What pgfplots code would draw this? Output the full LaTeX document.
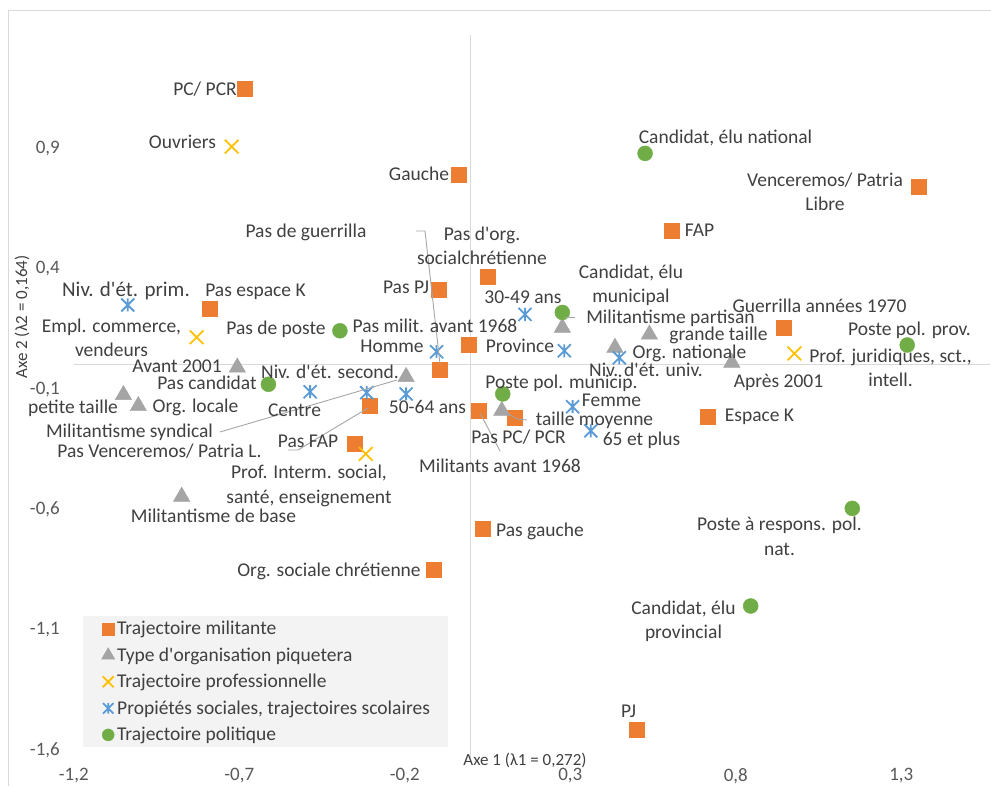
\documentclass[border=0pt]{standalone}
\usepackage{pgfplots}
\pgfplotsset{compat=1.18}
\usepackage{fontspec}
\setmainfont{Carlito}
\newcommand{\q}{\textquotesingle}
\definecolor{cOr}{HTML}{ED7D31}
\definecolor{cGr}{HTML}{A5A5A5}
\definecolor{cYe}{HTML}{FFC000}
\definecolor{cBl}{HTML}{5B9BD5}
\definecolor{cGn}{HTML}{70AD47}
\definecolor{cText}{HTML}{404040}
\definecolor{cTick}{HTML}{595959}
\definecolor{cZero}{HTML}{D9D9D9}
\definecolor{cLead}{HTML}{A6A6A6}
\definecolor{cLeg}{HTML}{F3F3F3}
\pgfdeclareplotmark{exx}{%
  \pgfpathmoveto{\pgfqpoint{-\pgfplotmarksize}{-\pgfplotmarksize}}%
  \pgfpathlineto{\pgfqpoint{\pgfplotmarksize}{\pgfplotmarksize}}%
  \pgfpathmoveto{\pgfqpoint{-\pgfplotmarksize}{\pgfplotmarksize}}%
  \pgfpathlineto{\pgfqpoint{\pgfplotmarksize}{-\pgfplotmarksize}}%
  \pgfusepathqstroke}
\pgfdeclareplotmark{xstar}{%
  \pgfpathmoveto{\pgfqpoint{-\pgfplotmarksize}{-\pgfplotmarksize}}%
  \pgfpathlineto{\pgfqpoint{\pgfplotmarksize}{\pgfplotmarksize}}%
  \pgfpathmoveto{\pgfqpoint{-\pgfplotmarksize}{\pgfplotmarksize}}%
  \pgfpathlineto{\pgfqpoint{\pgfplotmarksize}{-\pgfplotmarksize}}%
  \pgfpathmoveto{\pgfqpoint{0pt}{-\pgfplotmarksize}}%
  \pgfpathlineto{\pgfqpoint{0pt}{\pgfplotmarksize}}%
  \pgfusepathqstroke}
\begin{document}
\begin{tikzpicture}[x=1pt,y=1pt,
  lbl/.style={anchor=base,align=center,inner sep=0pt,font=\fontsize{19.5}{24}\selectfont,text=cText},
  lead/.style={draw=cLead,line width=0.9pt}]
\path (0,0) rectangle (991,786);
\draw[color=cZero,line width=1pt] (8.5,0) -- (8.5,775.5) -- (990.5,775.5);
\begin{axis}[
  at={(73.8pt,35.4pt)}, anchor=south west,
  scale only axis, width=916.5pt, height=715.77pt,
  xmin=-1.2, xmax=1.569, ymin=-1.6, ymax=1.37,
  axis line style={draw=none}, major tick length=0pt,
  xtick={-1.2,-0.7,-0.2,0.3,0.8,1.3},
  xticklabels={{-1,2},{-0,7},{-0,2},{0,3},{0,8},{1,3}},
  ytick={-1.6,-1.1,-0.6,-0.1,0.4,0.9},
  yticklabels={{-1,6},{-1,1},{-0,6},{-0,1},{0,4},{0,9}},
  tick label style={font=\fontsize{19}{22}\selectfont,text=cTick},
  xticklabel style={yshift=-14pt},
  yticklabel style={xshift=-10.5pt},
  clip=false,
  legend cell align=left,
  legend image code/.code={\path[draw=none,fill=none] (0pt,-6pt) rectangle (16pt,6pt);
     \draw[mark repeat=2,mark phase=2,#1,every mark/.append style={scale=0.8}] plot coordinates {(0pt,0pt)(8pt,0pt)(16pt,0pt)};},
  legend style={at={(axis cs:-1.1722,-1.0415)}, anchor=north west, fill=cLeg, draw=none,
     inner xsep=17pt, inner ysep=4pt, font=\fontsize{19.5}{24}\selectfont, text=cText,
     nodes={inner sep=1pt}, row sep=9.5pt},
]
\draw[color=cZero,line width=1pt] (axis cs:0,-1.63) -- (axis cs:0,1.37);
\draw[color=cZero,line width=1pt] (axis cs:-1.2,0) -- (axis cs:1.569,0);
% Trajectoire militante
\addplot[only marks, mark=square*, mark size=7.5pt, color=cOr] coordinates {
(-0.683,1.145) (-0.036,0.788) (1.353,0.739) (0.606,0.558) (0.052,0.366)
(-0.099,0.311) (-0.790,0.235) (0.944,0.156) (-0.008,0.083) (-0.094,-0.018)
(-0.305,-0.170) (-0.350,-0.325) (0.024,-0.190) (0.131,-0.217) (0.714,-0.214)
(0.034,-0.678) (-0.114,-0.851) (0.500,-1.512)};
\addlegendentry{Trajectoire militante}
% Type d'organisation piquetera
\addplot[only marks, mark=triangle*, mark size=9.5pt, color=cGr] coordinates {
(-1.050,-0.124) (-1.005,-0.170) (-0.706,-0.010) (-0.196,-0.049) (-0.874,-0.546)
(0.093,-0.190) (0.276,0.155) (0.539,0.127) (0.435,0.072) (0.788,0.010)};
\addlegendentry{Type d\q organisation piquetera}
% Trajectoire professionnelle
\addplot[only marks, mark=exx, mark size=6.8pt, color=cYe, mark options={line width=1.8pt}] coordinates {
(-0.723,0.906) (-0.829,0.115) (-0.318,-0.369) (0.977,0.048)};
\addlegendentry{Trajectoire professionnelle}
% Proprietes sociales
\addplot[only marks, mark=xstar, mark size=6.5pt, color=cBl, mark options={line width=1.8pt}] coordinates {
(-1.037,0.249) (-0.104,0.055) (-0.486,-0.111) (-0.315,-0.115) (-0.196,-0.120)
(0.163,0.210) (0.282,0.059) (0.448,0.030) (0.307,-0.173) (0.362,-0.273)};
\addlegendentry{Propiétés sociales, trajectoires scolaires}
% Trajectoire politique
\addplot[only marks, mark=*, mark size=7.5pt, color=cGn] coordinates {
(0.526,0.878) (0.276,0.218) (-0.396,0.142) (-0.612,-0.080) (0.096,-0.120)
(1.318,0.083) (1.152,-0.595) (0.845,-1.000)};
\addlegendentry{Trajectoire politique}
\end{axis}
% leader lines
\draw[lead] (416,555) -- (425,555) -- (440,422);
\draw[lead] (220,354) -- (397,406);
\draw[lead] (288,336) -- (298,336) -- (368,378);
\draw[lead] (480,373) -- (500,335);
\draw[lead] (505,374) -- (517,367) -- (527,366);
\draw[lead] (565,469) -- (575,469);
% labels
\node[lbl] at (205,690) {PC/ PCR};
\node[lbl] at (182.5,637) {Ouvriers};
\node[lbl] at (419,605) {Gauche};
\node[lbl] at (306,548) {Pas de guerrilla};
\node[lbl] at (482,521) {Pas d\q org.\\socialchrétienne};
\node[lbl] at (406,492) {Pas PJ};
\node[lbl,font=\fontsize{21}{25}\selectfont] at (126,489.5) {Niv. d\q ét. prim.};
\node[lbl] at (255.5,489) {Pas espace K};
\node[lbl] at (523,482) {30-49 ans};
\node[lbl] at (631,483) {Candidat, élu\\municipal};
\node[lbl] at (670.5,462) {Militantisme partisan};
\node[lbl] at (718.5,445) {grande taille};
\node[lbl] at (689.5,427) {Org. nationale};
\node[lbl] at (646,409) {Niv. d\q ét. univ.};
\node[lbl] at (778.5,398) {Après 2001};
\node[lbl] at (819.5,473) {Guerrilla années 1970};
\node[lbl] at (909.5,450) {Poste pol. prov.};
\node[lbl] at (890.5,399) {Prof. juridiques, sct.,\\intell.};
\node[lbl] at (825,575) {Venceremos/ Patria\\Libre};
\node[lbl] at (699.5,549) {FAP};
\node[lbl] at (725.5,642) {Candidat, élu national};
\node[lbl] at (435,453) {Pas milit. avant 1968};
\node[lbl] at (392,433) {Homme};
\node[lbl] at (520,433) {Province};
\node[lbl] at (111.5,429) {Empl. commerce,\\vendeurs};
\node[lbl] at (276,451) {Pas de poste};
\node[lbl] at (177,413) {Avant 2001};
\node[lbl] at (330,407) {Niv. d\q ét. second.};
\node[lbl] at (207,396) {Pas candidat};
\node[lbl] at (73,372) {petite taille};
\node[lbl] at (195.5,373) {Org. locale};
\node[lbl] at (294.5,369) {Centre};
\node[lbl] at (427.5,372) {50-64 ans};
\node[lbl] at (129.5,348) {Militantisme syndical};
\node[lbl] at (308,338) {Pas FAP};
\node[lbl] at (159.5,328) {Pas Venceremos/ Patria L.};
\node[lbl] at (309,283) {Prof. Interm. social,\\santé, enseignement};
\node[lbl] at (213.5,263) {Militantisme de base};
\node[lbl] at (561.5,397) {Poste pol. municip.};
\node[lbl] at (611.5,379) {Femme};
\node[lbl] at (594.5,360) {taille moyenne};
\node[lbl] at (518.5,342) {Pas PC/ PCR};
\node[lbl] at (641.5,340) {65 et plus};
\node[lbl] at (500,313) {Militants avant 1968};
\node[lbl] at (759.5,364) {Espace K};
\node[lbl] at (540,250) {Pas gauche};
\node[lbl] at (329,210) {Org. sociale chrétienne};
\node[lbl] at (779.5,231) {Poste à respons. pol.\\nat.};
\node[lbl] at (683.5,148) {Candidat, élu\\provincial};
\node[lbl] at (628.5,69) {PJ};
% axis titles
\node[anchor=base,inner sep=0pt,font=\fontsize{17}{20}\selectfont,text=cText] at (525,20.5) {Axe 1 (λ1 = 0,272)};
\node[rotate=90,anchor=center,inner sep=0pt,font=\fontsize{17}{20}\selectfont,text=cText] at (22,469) {Axe 2 (λ2 = 0,164)};
\end{tikzpicture}
\end{document}
